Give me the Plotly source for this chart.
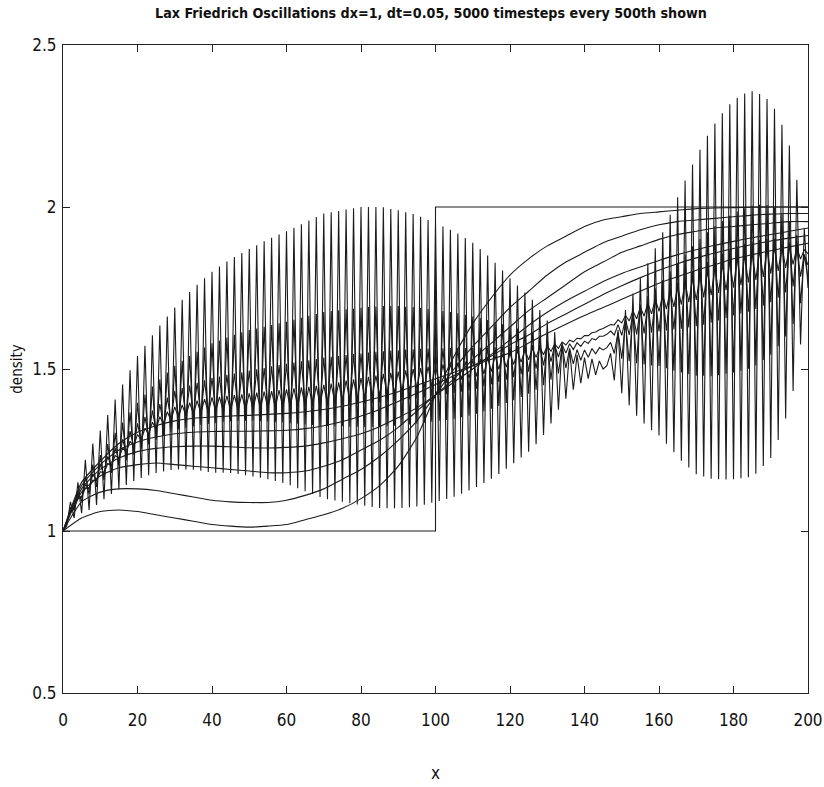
import plotly.graph_objects as go

# ---------------------------------------------------------------
# Lax-Friedrichs density snapshots (dx = 1, grid x = 0..200)
# ---------------------------------------------------------------

# initial step (t = 0)
x_step = [0, 100, 100, 200]
y_step = [1.0, 1.0, 2.0, 2.0]

# smooth early snapshots, sampled every 5 grid cells
x_coarse = list(range(0, 201, 5))
t500 = [1.0, 1.04, 1.06, 1.065, 1.06, 1.05, 1.04, 1.03, 1.02, 1.015, 1.012, 1.015, 1.02, 1.035,
        1.05, 1.07, 1.10, 1.14, 1.20, 1.29, 1.42, 1.54, 1.64, 1.72, 1.79, 1.84, 1.88, 1.91,
        1.94, 1.96, 1.97, 1.98, 1.985, 1.99, 1.995, 1.997, 1.998, 1.999, 2.0, 2.0, 2.0]
t1000 = [1.0, 1.09, 1.12, 1.13, 1.13, 1.125, 1.115, 1.105, 1.095, 1.09, 1.088, 1.088, 1.095, 1.11,
         1.13, 1.16, 1.19, 1.23, 1.28, 1.34, 1.42, 1.50, 1.57, 1.63, 1.69, 1.74, 1.79, 1.83,
         1.86, 1.89, 1.91, 1.93, 1.945, 1.955, 1.96, 1.965, 1.97, 1.975, 1.978, 1.98, 1.98]
t1500 = [1.0, 1.12, 1.17, 1.195, 1.205, 1.21, 1.205, 1.20, 1.195, 1.19, 1.185, 1.18, 1.18, 1.185,
         1.20, 1.22, 1.25, 1.28, 1.32, 1.37, 1.42, 1.47, 1.53, 1.58, 1.63, 1.68, 1.72, 1.76,
         1.80, 1.83, 1.86, 1.88, 1.90, 1.915, 1.925, 1.935, 1.94, 1.945, 1.95, 1.955, 1.955]
t2000 = [1.0, 1.13, 1.19, 1.225, 1.245, 1.255, 1.26, 1.262, 1.262, 1.26, 1.257, 1.256, 1.258, 1.262,
         1.272, 1.285, 1.30, 1.322, 1.35, 1.38, 1.42, 1.46, 1.50, 1.545, 1.59, 1.635, 1.675, 1.71,
         1.74, 1.77, 1.795, 1.815, 1.835, 1.853, 1.868, 1.882, 1.894, 1.905, 1.915, 1.925, 1.935]
t2500 = [1.0, 1.14, 1.205, 1.25, 1.275, 1.29, 1.30, 1.305, 1.307, 1.308, 1.308, 1.309, 1.311, 1.316,
         1.325, 1.338, 1.355, 1.375, 1.40, 1.425, 1.452, 1.48, 1.51, 1.54, 1.575, 1.605, 1.64, 1.67,
         1.70, 1.73, 1.757, 1.782, 1.805, 1.825, 1.843, 1.858, 1.872, 1.884, 1.895, 1.904, 1.912]
t3000 = [1.0, 1.15, 1.215, 1.27, 1.305, 1.325, 1.34, 1.348, 1.352, 1.355, 1.357, 1.36, 1.363, 1.368,
         1.375, 1.385, 1.398, 1.413, 1.43, 1.45, 1.47, 1.49, 1.51, 1.53, 1.55, 1.58, 1.61, 1.638,
         1.665, 1.69, 1.715, 1.74, 1.765, 1.785, 1.805, 1.822, 1.84, 1.853, 1.865, 1.877, 1.888]

# later snapshots with odd/even oscillation: values at even x (0,2,..,200) and odd x (1,3,..,199)
t3500_even = [1.000, 1.057, 1.099, 1.131, 1.157, 1.183, 1.208, 1.233, 1.256, 1.277, 1.298, 1.317, 1.336,
              1.353, 1.368, 1.383, 1.389, 1.396, 1.402, 1.407, 1.412, 1.414, 1.417, 1.419, 1.422, 1.425,
              1.427, 1.430, 1.432, 1.435, 1.437, 1.440, 1.443, 1.445, 1.448, 1.451, 1.455, 1.459, 1.464,
              1.468, 1.472, 1.476, 1.480, 1.485, 1.488, 1.492, 1.496, 1.500, 1.503, 1.507, 1.510, 1.514,
              1.517, 1.520, 1.523, 1.527, 1.531, 1.536, 1.541, 1.546, 1.550, 1.555, 1.560, 1.564, 1.568,
              1.572, 1.577, 1.583, 1.589, 1.595, 1.603, 1.612, 1.621, 1.630, 1.636, 1.642, 1.648, 1.655,
              1.663, 1.670, 1.678, 1.685, 1.692, 1.699, 1.706, 1.713, 1.721, 1.728, 1.735, 1.743, 1.751,
              1.759, 1.767, 1.775, 1.784, 1.794, 1.803, 1.812, 1.823, 1.839, 1.856]
t3500_odd = [1.027, 1.072, 1.106, 1.131, 1.155, 1.179, 1.202, 1.224, 1.244, 1.263, 1.281, 1.298, 1.314,
             1.328, 1.341, 1.350, 1.356, 1.360, 1.364, 1.367, 1.369, 1.371, 1.372, 1.374, 1.375, 1.376,
             1.378, 1.379, 1.381, 1.382, 1.384, 1.385, 1.386, 1.388, 1.389, 1.391, 1.395, 1.399, 1.402,
             1.406, 1.410, 1.414, 1.418, 1.422, 1.426, 1.430, 1.434, 1.439, 1.443, 1.448, 1.452, 1.457,
             1.462, 1.467, 1.471, 1.477, 1.485, 1.492, 1.499, 1.506, 1.514, 1.521, 1.528, 1.536, 1.544,
             1.554, 1.564, 1.574, 1.584, 1.593, 1.603, 1.614, 1.625, 1.637, 1.652, 1.665, 1.679, 1.691,
             1.704, 1.716, 1.729, 1.742, 1.755, 1.768, 1.781, 1.793, 1.803, 1.814, 1.824, 1.834, 1.843,
             1.851, 1.859, 1.867, 1.873, 1.877, 1.878, 1.878, 1.875, 1.868]

t4000_even = [1.000, 1.065, 1.109, 1.144, 1.177, 1.204, 1.230, 1.257, 1.283, 1.308, 1.332, 1.352, 1.372,
              1.392, 1.412, 1.433, 1.441, 1.449, 1.457, 1.465, 1.473, 1.477, 1.482, 1.486, 1.490, 1.495,
              1.499, 1.503, 1.508, 1.512, 1.516, 1.520, 1.524, 1.527, 1.531, 1.535, 1.538, 1.540, 1.543,
              1.546, 1.548, 1.551, 1.553, 1.555, 1.557, 1.558, 1.560, 1.561, 1.562, 1.563, 1.563, 1.564,
              1.565, 1.565, 1.565, 1.565, 1.566, 1.567, 1.568, 1.569, 1.569, 1.571, 1.573, 1.574, 1.574,
              1.574, 1.574, 1.575, 1.578, 1.581, 1.586, 1.594, 1.601, 1.607, 1.605, 1.604, 1.605, 1.607,
              1.610, 1.612, 1.616, 1.619, 1.622, 1.624, 1.628, 1.632, 1.637, 1.643, 1.650, 1.657, 1.665,
              1.671, 1.677, 1.685, 1.695, 1.706, 1.720, 1.736, 1.755, 1.785, 1.821]
t4000_odd = [1.028, 1.073, 1.104, 1.130, 1.155, 1.177, 1.199, 1.219, 1.239, 1.258, 1.276, 1.292, 1.308,
             1.324, 1.340, 1.350, 1.354, 1.358, 1.362, 1.365, 1.368, 1.370, 1.371, 1.373, 1.375, 1.376,
             1.378, 1.380, 1.381, 1.383, 1.384, 1.384, 1.385, 1.385, 1.385, 1.386, 1.387, 1.389, 1.390,
             1.391, 1.393, 1.394, 1.396, 1.398, 1.401, 1.403, 1.406, 1.409, 1.412, 1.415, 1.419, 1.422,
             1.426, 1.430, 1.434, 1.439, 1.446, 1.453, 1.460, 1.467, 1.475, 1.484, 1.492, 1.501, 1.511,
             1.523, 1.537, 1.549, 1.560, 1.570, 1.579, 1.590, 1.601, 1.617, 1.637, 1.655, 1.671, 1.687,
             1.702, 1.717, 1.733, 1.750, 1.767, 1.784, 1.800, 1.816, 1.830, 1.844, 1.857, 1.869, 1.879,
             1.887, 1.894, 1.899, 1.903, 1.902, 1.897, 1.890, 1.875, 1.852]

t4500_even = [1.000, 1.072, 1.120, 1.167, 1.205, 1.234, 1.268, 1.303, 1.335, 1.366, 1.396, 1.421, 1.446,
              1.468, 1.489, 1.510, 1.525, 1.540, 1.553, 1.566, 1.579, 1.588, 1.597, 1.606, 1.613, 1.620,
              1.625, 1.630, 1.636, 1.641, 1.646, 1.652, 1.658, 1.664, 1.670, 1.676, 1.679, 1.681, 1.684,
              1.686, 1.689, 1.691, 1.693, 1.694, 1.694, 1.694, 1.692, 1.691, 1.688, 1.685, 1.682, 1.679,
              1.676, 1.672, 1.667, 1.662, 1.657, 1.651, 1.645, 1.638, 1.631, 1.625, 1.619, 1.613, 1.603,
              1.593, 1.581, 1.571, 1.564, 1.560, 1.559, 1.563, 1.566, 1.566, 1.548, 1.532, 1.524, 1.518,
              1.514, 1.511, 1.509, 1.502, 1.495, 1.489, 1.484, 1.479, 1.479, 1.478, 1.481, 1.485, 1.489,
              1.495, 1.501, 1.511, 1.528, 1.544, 1.570, 1.600, 1.639, 1.703, 1.779]
t4500_odd = [1.024, 1.064, 1.092, 1.114, 1.136, 1.157, 1.179, 1.199, 1.218, 1.235, 1.252, 1.267, 1.281,
             1.294, 1.305, 1.313, 1.318, 1.323, 1.327, 1.330, 1.333, 1.336, 1.338, 1.339, 1.340, 1.340,
             1.339, 1.337, 1.336, 1.335, 1.333, 1.331, 1.329, 1.327, 1.325, 1.324, 1.323, 1.323, 1.322,
             1.322, 1.321, 1.321, 1.322, 1.323, 1.325, 1.327, 1.329, 1.331, 1.334, 1.337, 1.340, 1.343,
             1.346, 1.351, 1.356, 1.362, 1.369, 1.377, 1.386, 1.395, 1.404, 1.414, 1.424, 1.436, 1.450,
             1.467, 1.486, 1.503, 1.516, 1.527, 1.536, 1.547, 1.559, 1.582, 1.613, 1.643, 1.672, 1.699,
             1.725, 1.749, 1.775, 1.802, 1.828, 1.854, 1.879, 1.901, 1.922, 1.941, 1.957, 1.973, 1.986,
             1.996, 2.004, 2.007, 2.006, 1.998, 1.980, 1.956, 1.914, 1.854]

t5000_even = [1.00, 1.09, 1.15, 1.22, 1.27, 1.31, 1.358, 1.406, 1.452, 1.496, 1.54, 1.572, 1.604,
              1.634, 1.662, 1.69, 1.714, 1.738, 1.76, 1.78, 1.80, 1.816, 1.832, 1.846, 1.858, 1.87,
              1.882, 1.894, 1.905, 1.915, 1.925, 1.936, 1.947, 1.958, 1.969, 1.98, 1.984, 1.988, 1.992,
              1.996, 2.00, 2.00, 2.00, 1.999, 1.994, 1.99, 1.984, 1.978, 1.97, 1.96, 1.95, 1.94,
              1.93, 1.918, 1.904, 1.89, 1.87, 1.85, 1.828, 1.804, 1.78, 1.758, 1.736, 1.714, 1.682,
              1.65, 1.614, 1.583, 1.56, 1.544, 1.535, 1.531, 1.525, 1.51, 1.465, 1.425, 1.388, 1.356,
              1.332, 1.311, 1.295, 1.269, 1.243, 1.217, 1.196, 1.175, 1.168, 1.161, 1.16, 1.159, 1.16,
              1.163, 1.166, 1.177, 1.201, 1.225, 1.281, 1.347, 1.432, 1.576, 1.75]
t5000_odd = [1.015, 1.04, 1.055, 1.065, 1.08, 1.098, 1.114, 1.129, 1.142, 1.154, 1.164, 1.172, 1.179,
             1.184, 1.188, 1.19, 1.19, 1.189, 1.186, 1.182, 1.18, 1.18, 1.179, 1.176, 1.172, 1.168,
             1.164, 1.16, 1.154, 1.148, 1.141, 1.132, 1.123, 1.114, 1.105, 1.098, 1.094, 1.09, 1.086,
             1.082, 1.078, 1.074, 1.071, 1.07, 1.07, 1.071, 1.073, 1.076, 1.081, 1.087, 1.093, 1.099,
             1.106, 1.115, 1.125, 1.136, 1.148, 1.161, 1.176, 1.192, 1.209, 1.227, 1.245, 1.268, 1.296,
             1.332, 1.374, 1.408, 1.436, 1.456, 1.47, 1.482, 1.50, 1.548, 1.621, 1.682, 1.732, 1.78,
             1.826, 1.873, 1.922, 1.976, 2.03, 2.082, 2.131, 2.177, 2.22, 2.258, 2.289, 2.317, 2.337,
             2.35, 2.357, 2.349, 2.333, 2.303, 2.254, 2.19, 2.084, 1.933]

x_grid = list(range(0, 201))

oscillating = [
    (t3500_even, t3500_odd),
    (t4000_even, t4000_odd),
    (t4500_even, t4500_odd),
    (t5000_even, t5000_odd),
]

line_style = dict(color="#1c1c1c", width=1.1)

fig = go.Figure()

fig.add_trace(go.Scatter(x=x_step, y=y_step, mode="lines", line=line_style, hoverinfo="skip"))
for series in (t500, t1000, t1500, t2000, t2500, t3000):
    fig.add_trace(go.Scatter(x=x_coarse, y=series, mode="lines",
                             line=dict(line_style, shape="spline", smoothing=0.6), hoverinfo="skip"))
for even_vals, odd_vals in oscillating:
    y = [0.0] * len(x_grid)
    y[0::2] = even_vals
    y[1::2] = odd_vals
    fig.add_trace(go.Scatter(x=x_grid, y=y, mode="lines", line=line_style, hoverinfo="skip"))

narrow = "DejaVu Sans Condensed, Liberation Sans Narrow, Arial Narrow, sans-serif"
tick_font = dict(family=narrow, size=17, color="#111111")

x_ticks = list(range(0, 201, 20))
y_ticks = [0.5, 1.0, 1.5, 2.0, 2.5]
y_tick_text = ["0.5", "1", "1.5", "2", "2.5"]

fig.update_layout(
    width=824,
    height=787,
    margin=dict(l=63, r=16, t=45, b=94),
    paper_bgcolor="white",
    plot_bgcolor="white",
    showlegend=False,
    title=dict(
        text="<b>Lax Friedrich Oscillations dx=1, dt=0.05, 5000 timesteps every 500th shown</b>",
        x=0.523, xanchor="center", y=0.984, yanchor="middle",
        font=dict(family=narrow, size=14.2, color="#111111"),
    ),
    xaxis=dict(
        range=[0, 200], tickvals=x_ticks, ticktext=[str(v) for v in x_ticks],
        ticks="inside", ticklen=7, tickwidth=1, tickcolor="#222222",
        showline=True, linecolor="#222222", linewidth=1.2, mirror="ticks",
        showgrid=False, zeroline=False, tickfont=tick_font, ticklabelstandoff=11,
        automargin=False,
        title=dict(text="x", font=tick_font, standoff=38),
    ),
    yaxis=dict(
        range=[0.5, 2.5], tickvals=y_ticks, ticktext=y_tick_text,
        ticks="inside", ticklen=7, tickwidth=1, tickcolor="#222222",
        showline=True, linecolor="#222222", linewidth=1.2, mirror="ticks",
        showgrid=False, zeroline=False, tickfont=tick_font, ticklabelstandoff=2,
        automargin=False,
        title=dict(text="density", font=dict(family=narrow, size=15, color="#111111"), standoff=5),
    ),
)

fig.write_html("out.html")
